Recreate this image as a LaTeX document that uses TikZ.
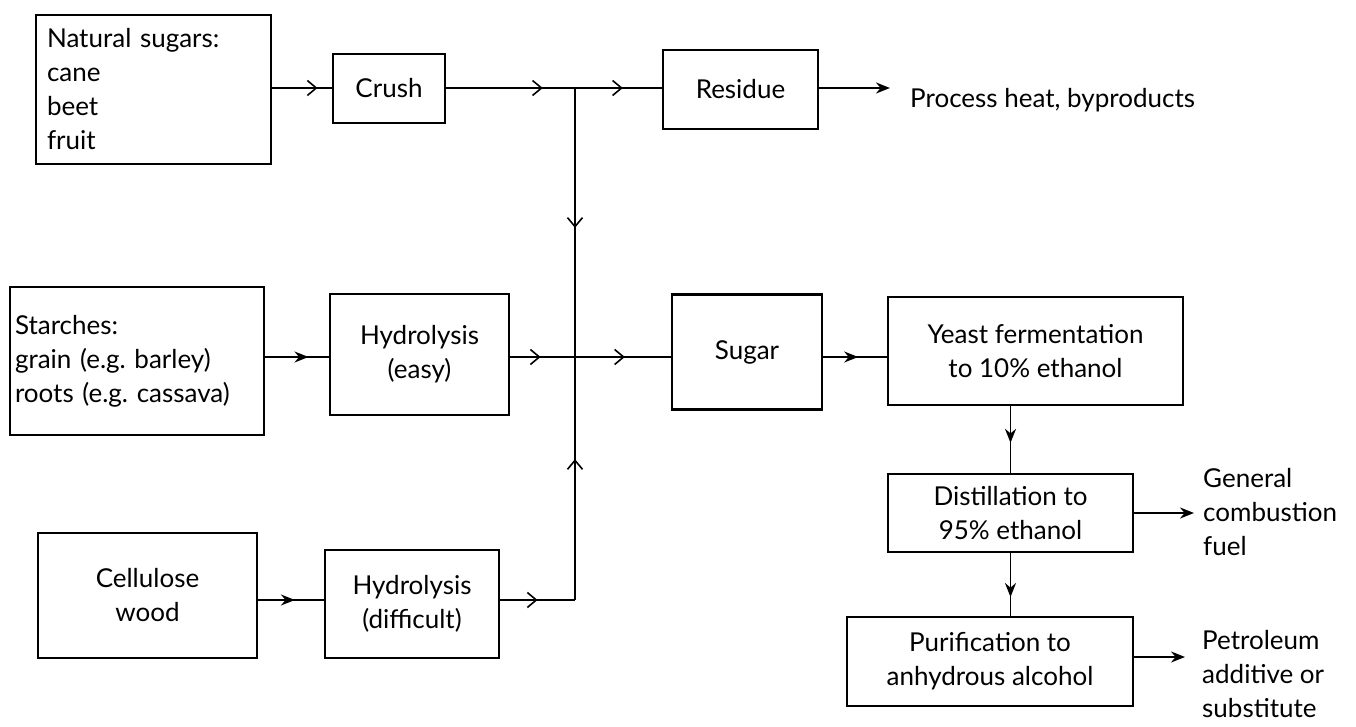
\documentclass[tikz,border=0pt]{standalone}
\usepackage{fontspec}
\setmainfont{Lato}
\usetikzlibrary{arrows.meta,decorations.markings}
\begin{document}
\begin{tikzpicture}[x=1pt,y=-1pt,
  every node/.style={font=\fontsize{26}{34}\selectfont},
  box/.style={draw, line width=2.2pt, inner sep=0pt, align=center},
  lbl/.style={anchor=west, inner sep=0pt, align=left},
  lnk/.style={line width=1.8pt},
  barb/.style={postaction={decorate},decoration={markings,mark=at position #1 with {\arrow{Straight Barb[length=9pt,width=15pt,line width=1.6pt]}}}},
  solidhead/.style={postaction={decorate},decoration={markings,mark=at position #1 with {\arrow{Stealth[length=14pt,width=11pt]}}}},
  endhead/.style={-{Stealth[length=14pt,width=11pt]}}
]
\useasboundingbox (0,0) rectangle (1356,727);

% junctions
\coordinate (J1) at (575,88);
\coordinate (J2) at (575,357);
\coordinate (J3) at (575,600);

% row 1
\node[box, align=left, text width=213pt, inner xsep=11pt, minimum height=149pt] (ns) at (153.5,89.5)
  {Natural sugars:\\cane\\beet\\fruit};
\node[box, minimum width=112pt, minimum height=69pt] (crush) at (389,88.5) {Crush};
\node[box, minimum width=155pt, minimum height=79pt] (res) at (740.5,89.5) {Residue};
\node[lbl] (proc) at (910,100) {Process heat, byproducts};

% row 2
\node[box, align=left, text width=244pt, inner xsep=5pt, minimum height=148pt] (st) at (137,361)
  {Starches:\\grain (e.g.\ barley)\\roots (e.g.\ cassava)};
\node[box, minimum width=179pt, minimum height=121pt] (hyde) at (419.5,354.5) {Hydrolysis\\(easy)};
\node[box, minimum width=150pt, minimum height=115pt] (sugar) at (747,352) {Sugar};
\node[box, minimum width=295pt, minimum height=108pt] (yeast) at (1035.5,351) {Yeast fermentation\\to 10\% ethanol};

% right column
\node[box, minimum width=245pt, minimum height=78pt] (dist) at (1010.5,513) {Distillation to\\95\% ethanol};
\node[lbl] (gen) at (1203,512) {General\\combustion\\fuel};
\node[box, minimum width=286pt, minimum height=89pt] (pur) at (990,661.5) {Purification to\\anhydrous alcohol};
\node[lbl] (pet) at (1202,674) {Petroleum\\additive or\\substitute};

% row 3
\node[box, minimum width=219pt, minimum height=125pt] (cell) at (147.5,595.5) {Cellulose\\wood};
\node[box, minimum width=174pt, minimum height=108pt] (hydd) at (412,604) {Hydrolysis\\(difficult)};

% connectors row 1
\draw[lnk, barb=0.76] (ns.east |- J1) -- (crush.west |- J1);
\draw[lnk, barb=0.75] (crush.east |- J1) -- (J1);
\draw[lnk, barb=0.55] (J1) -- (res.west |- J1);
\draw[lnk, endhead, shorten >=20pt] (res.east |- J1) -- (J1 -| proc.west);

% vertical collector
\draw[lnk, barb=0.52] (J1) -- (J2);
\draw[lnk, barb=0.58] (J3) -- (J2);

% connectors row 2
\draw[lnk, solidhead=0.68] (st.east |- J2) -- (hyde.west |- J2);
\draw[lnk, barb=0.47] (hyde.east |- J2) -- (J2);
\draw[lnk, barb=0.52] (J2) -- (sugar.west |- J2);
\draw[lnk, solidhead=0.55] (sugar.east |- J2) -- (yeast.west |- J2);

% right column connectors
\draw[lnk, solidhead=0.55] (dist.north |- yeast.south) -- (dist.north);
\draw[lnk, solidhead=0.7] (dist.south) -- (dist.south |- pur.north);
\draw[lnk, endhead, shorten >=9pt] (dist.east) -- (dist.east -| gen.west);
\draw[lnk, endhead, shorten >=18pt] (pur.east |- 0,657) -- (gen.west |- 0,657);

% connectors row 3
\draw[lnk, solidhead=0.56] (cell.east |- J3) -- (hydd.west |- J3);
\draw[lnk, barb=0.5] (hydd.east |- J3) -- (J3);
\end{tikzpicture}
\end{document}
